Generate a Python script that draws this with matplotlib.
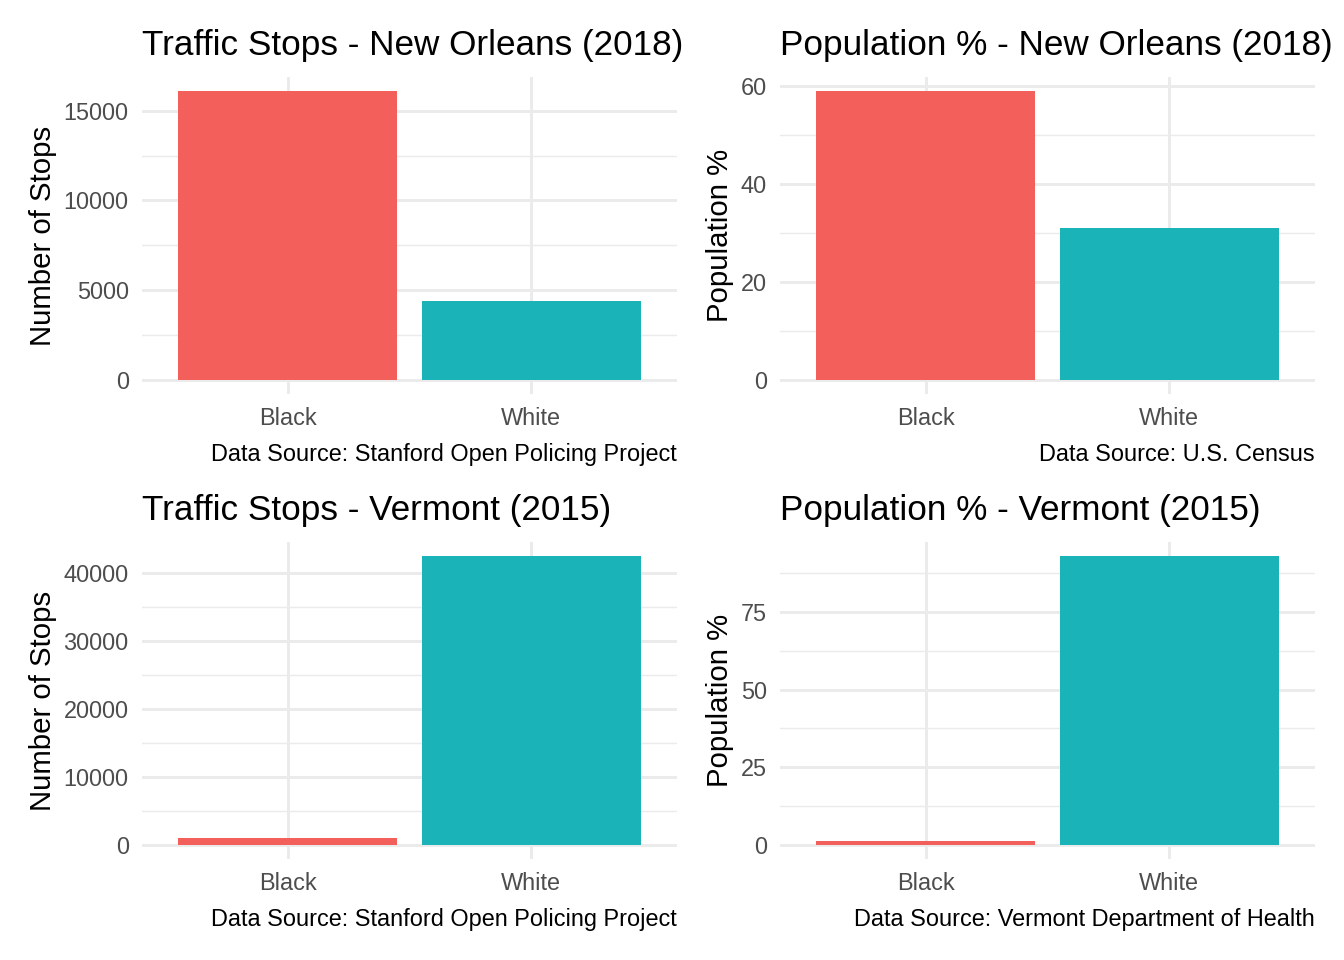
import numpy as np
import matplotlib
matplotlib.use("Agg")
import matplotlib.pyplot as plt
from matplotlib.ticker import MultipleLocator

plt.rcParams['font.family'] = ['Liberation Sans', 'DejaVu Sans']

races = ["Black", "White"]
bar_colors = ["#F35F5B", "#19B3B8"]

# traffic stops / population %
nola_stops = [16076, 4366]
nola_pop = [58.9, 30.9]
vt_stops = [1030, 42500]
vt_pop = [1.1, 93.0]

panels = [
    ("Traffic Stops - New Orleans (2018)", "Number of Stops", nola_stops,
     "Data Source: Stanford Open Policing Project", 5000, [0, 5000, 10000, 15000]),
    ("Population % - New Orleans (2018)", "Population %", nola_pop,
     "Data Source: U.S. Census", 20, [0, 20, 40, 60]),
    ("Traffic Stops - Vermont (2015)", "Number of Stops", vt_stops,
     "Data Source: Stanford Open Policing Project", 10000, [0, 10000, 20000, 30000, 40000]),
    ("Population % - Vermont (2015)", "Population %", vt_pop,
     "Data Source: Vermont Department of Health", 25, [0, 25, 50, 75]),
]

W, H = 1344, 960
fig = plt.figure(figsize=(7, 5), dpi=192)

# panel boxes in pixels: left, right, top, bottom
boxes = [(142, 677, 77, 394), (780, 1315, 77, 394),
         (142, 677, 542, 859), (780, 1315, 542, 859)]

for (title, ylab, vals, cap, step, ticks), (l, r, t, b) in zip(panels, boxes):
    ax = fig.add_axes([l / W, 1 - b / H, (r - l) / W, (b - t) / H])
    x = np.arange(1, len(races) + 1)
    ax.bar(x, vals, width=0.9, color=bar_colors, zorder=2)
    top = max(vals)
    ax.set_ylim(-0.05 * top, 1.05 * top)
    ax.set_xlim(0.4, len(races) + 0.6)
    ax.set_xticks(x)
    ax.set_xticklabels(races)
    ax.set_yticks(ticks)
    ax.yaxis.set_minor_locator(MultipleLocator(step / 2))
    ax.grid(True, which='major', color='#EBEBEB', lw=1.1, zorder=0)
    ax.grid(True, which='minor', axis='y', color='#EBEBEB', lw=0.55, zorder=0)
    ax.set_axisbelow(True)
    for s in ax.spines.values():
        s.set_visible(False)
    ax.tick_params(which='both', length=0, labelsize=8.8, labelcolor='#4D4D4D', pad=5)
    ax.set_ylabel(ylab, fontsize=11, labelpad=2.4)
    ax.set_title(title, loc='left', fontsize=13.2, pad=8.3)
    ax.annotate(cap, xy=(1, 0), xycoords='axes fraction', xytext=(0, -22.7),
                textcoords='offset points', ha='right', va='center', fontsize=8.8)

fig.savefig("out.png", dpi=192)
